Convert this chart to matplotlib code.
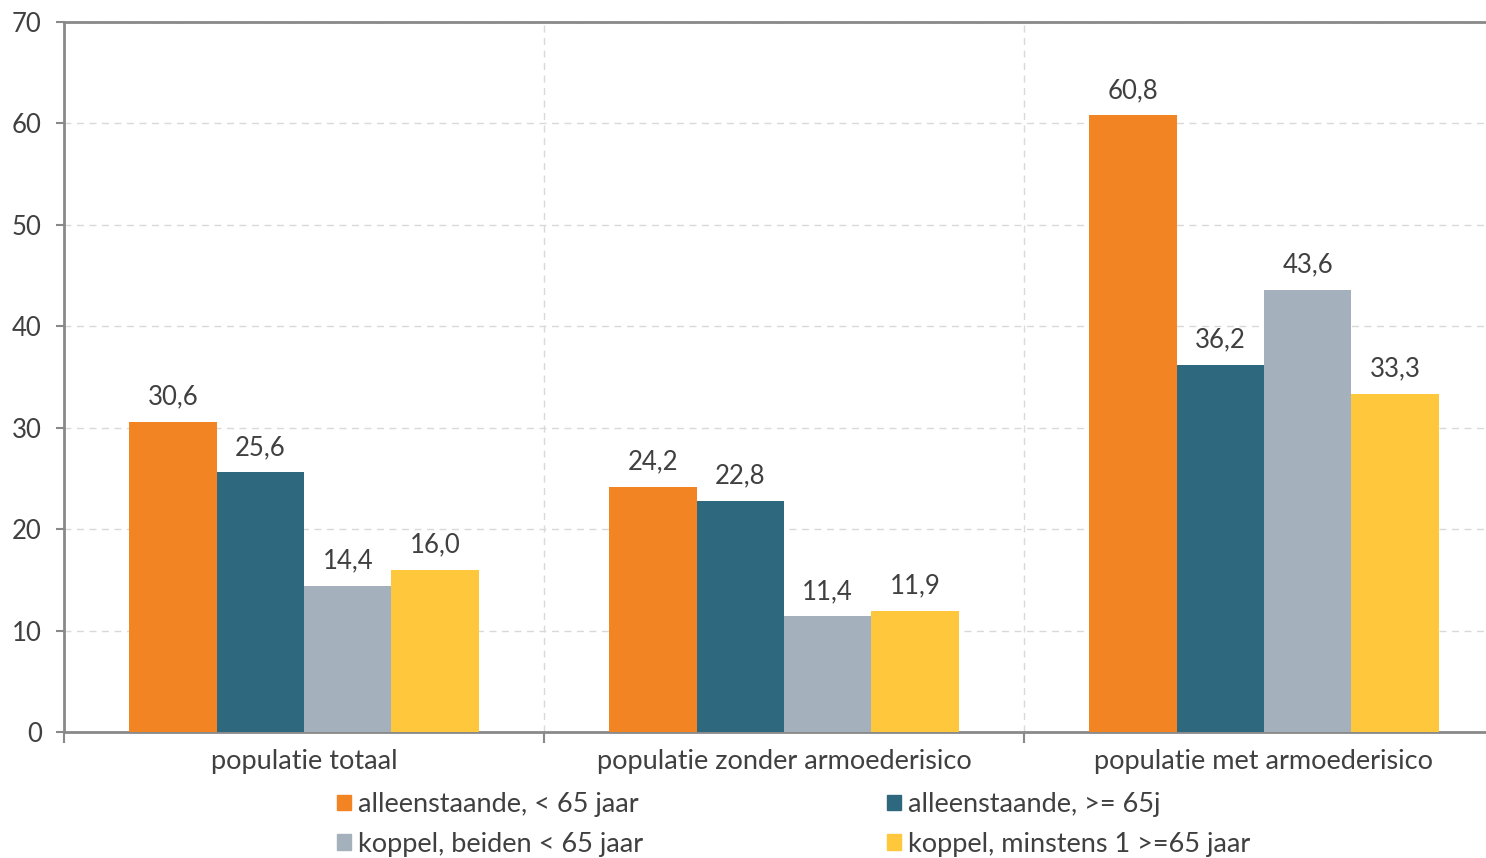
import numpy as np
import matplotlib
matplotlib.use("Agg")
import matplotlib.pyplot as plt
from matplotlib.patches import Patch

plt.rcParams["font.family"] = ["Lato", "DejaVu Sans"]

categories = ["populatie totaal", "populatie zonder armoederisico", "populatie met armoederisico"]
series = [
    "alleenstaande, < 65 jaar",
    "alleenstaande, >= 65j",
    "koppel, beiden < 65 jaar",
    "koppel, minstens 1 >=65 jaar",
]
values = [
    [30.6, 24.2, 60.8],
    [25.6, 22.8, 36.2],
    [14.4, 11.4, 43.6],
    [16.0, 11.9, 33.3],
]
colors = ["#F38423", "#2E687E", "#A5B0BD", "#FFC73C"]

TXT = "#404040"
AX = "#898989"
FS = 18.5
FS_CAT = 19.5

fig = plt.figure(figsize=(14.86, 8.58), dpi=100)
ax = fig.add_axes([64 / 1486, 1 - 732 / 858, 1440 / 1486, 710 / 858])

x = np.arange(len(categories))
w = 0.182
for i, (name, vals, c) in enumerate(zip(series, values, colors)):
    pos = x + (i - 1.5) * w
    ax.bar(pos, vals, width=w, color=c, zorder=3, label=name)
    for px, v in zip(pos, vals):
        ax.annotate(f"{v:.1f}".replace(".", ","), (px, v), xytext=(0, 9),
                    textcoords="offset points", ha="center", va="bottom",
                    fontsize=FS, color=TXT)

ax.set_xlim(-0.5, 2.5)
ax.set_ylim(0, 70)
ax.set_yticks(range(0, 71, 10))
ax.set_xticks([-0.5, 0.5, 1.5, 2.5])
ax.set_xticklabels([])
ax.set_xticks(x, minor=True)
ax.set_xticklabels(categories, minor=True)
ax.tick_params(axis="x", which="minor", length=0, pad=12, labelsize=FS_CAT, labelcolor=TXT)
ax.tick_params(axis="x", which="major", length=8, width=1.5, color=AX)
ax.tick_params(axis="y", length=6, width=1.5, color=AX, labelsize=FS, labelcolor=TXT, pad=10)

ax.grid(axis="y", color="#d9d9d9", ls=(0, (5, 4)), lw=1, zorder=0)
for b in [0.5, 1.5]:
    ax.axvline(b, color="#d9d9d9", ls=(0, (5, 4)), lw=1, zorder=0)

for s in ["left", "bottom", "top"]:
    ax.spines[s].set_color(AX)
    ax.spines[s].set_linewidth(2)
ax.spines["right"].set_visible(False)

order = [0, 2, 1, 3]
handles = [Patch(color=colors[i]) for i in order]
labels = [series[i] for i in order]
fig.legend(handles, labels, ncol=2, loc="center", bbox_to_anchor=(0.534, 0.039),
           frameon=False, fontsize=FS_CAT, handlelength=0.52, handleheight=0.52,
           handletextpad=0.27, columnspacing=9.0, labelspacing=0.55,
           labelcolor=TXT, borderpad=0)

fig.savefig("out.png", dpi=100)
